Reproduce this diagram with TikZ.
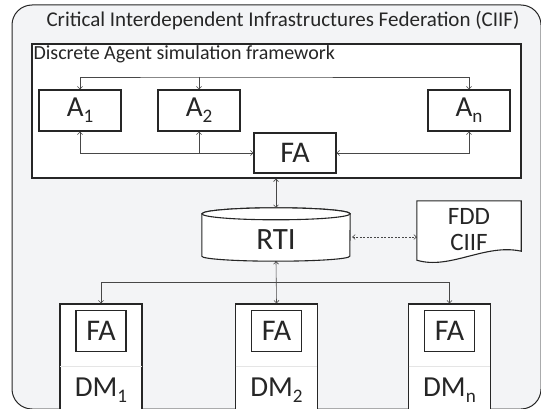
\documentclass[tikz,border=0pt]{standalone}
\usepackage{fontspec}
\setmainfont{Carlito}
\usetikzlibrary{arrows.meta,
	calc,
	positioning}
\definecolor{panelgray}{HTML}{F3F4F6}
\definecolor{inkgray}{HTML}{262626}
\newcommand{\lowtag}[1]{\raisebox{-0.45ex}{\scalebox{0.66}{#1}}}

\begin{document}
\begin{tikzpicture}[x=1pt,y=-1pt,
	every node/.style={text=inkgray},
	box/.style={draw=inkgray,line width=1.1pt,fill=white,inner sep=0pt},
	link/.style={draw=inkgray!85,line width=0.6pt},
	tip/.style={-{Straight Barb[length=2.6pt,width=5pt]}},
	tips/.style={{Straight Barb[length=2.6pt,width=5pt]}-{Straight Barb[length=2.6pt,width=5pt]}},
	agent/.style={box,minimum width=82pt,minimum height=41pt,font=\fontsize{29}{31}\selectfont},
	dmbox/.style={box,minimum width=82pt,minimum height=108pt},
	fainner/.style={box,minimum width=50pt,minimum height=41pt,font=\fontsize{30}{32}\selectfont}]
	\useasboundingbox (0,0) rectangle (541,409);
	\clip (0,0) rectangle (541,409);
	% federation panel
	\draw[draw=inkgray,line width=1pt,fill=panelgray,rounded corners=20pt] (12,5) rectangle (541,409);
	\node (title) at (283,21) {\fontsize{21}{24}\selectfont Critical Interdependent Infrastructures Federation (CIIF)};
	% agent framework
	\node[box,line width=1.3pt,minimum width=489pt,minimum height=134pt] (frame) at (276.5,111) {};
	\node[anchor=north west,inner sep=2pt,font=\fontsize{20}{23}\selectfont] (framelabel) at (frame.north west) {Discrete Agent simulation framework};
	\node[agent] (a1) at (80,110.5) {A\lowtag{1}};
	\node[agent] (a2) at (199,110.5) {A\lowtag{2}};
	\node[agent] (an) at (469,110.5) {A\lowtag{n}};
	\node[agent,minimum height=40pt,font=\fontsize{30}{32}\selectfont] (fa) at (295,153) {FA};
	\coordinate (topbus) at (199,77);
	\draw[link,tips] (a1.north) |- (topbus) -| (an.north);
	\draw[link,tip] (topbus) -- (a2.north);
	\draw[link,tips] (a1.south) |- (fa.west);
	\draw[link,tip] (a2.south |- fa.west) -- (a2.south);
	\draw[link,tips] (an.south) |- (fa.east);
	% RTI cylinder
	\node[inner sep=0pt,minimum width=148pt,minimum height=53pt] (rti) at (276,234.5) {};
	\draw[box] ($(rti.north west)+(0,6)$) -- ($(rti.south west)+(0,-5)$)
		arc[start angle=180,end angle=360,x radius=74pt,y radius=5pt]
		-- ($(rti.north east)+(0,6)$)
		arc[start angle=0,end angle=180,x radius=74pt,y radius=6pt] -- cycle;
	\draw[box] ($(rti.north)+(0,6)$) ellipse[x radius=74pt,y radius=6pt];
	\node[font=\fontsize{31}{33}\selectfont] (rtilabel) at ($(rti.center)+(0,5)$) {RTI};
	% FDD document
	\node[inner sep=0pt,minimum width=104pt,minimum height=61pt] (doc) at (469,231.5) {};
	\draw[box] (doc.north west) -- (doc.north east) -- ($(doc.south east)+(0,-11)$)
		.. controls ($(doc.south east)+(-36,-19)$) and ($(doc.south west)+(33,8)$) .. ($(doc.south west)+(0,-2)$) -- cycle;
	\node[align=center,font=\fontsize{25}{26}\selectfont] (doclabel) at ($(doc.center)+(0,-2)$) {FDD\\CIIF};
	\draw[link,tip] (frame.south -| rti.north) -- (rti.north);
	\draw[link,tip] (rti.north) -- (frame.south -| rti.north);
	\draw[link,tips,dash pattern=on 2pt off 1.5pt] ($(rti.east)+(2,2.5)$) -- ($(rti.east -| doc.west)+(0,2.5)$);
	% data models
	\foreach \name/\idx/\xpos in {dm1/1/101,dm2/2/276.5,dmn/n/449.5} {
		\node[dmbox] (\name) at (\xpos,358) {};
		\node[fainner] (\name fa) at ($(\name.north)+(0,27.5)$) {FA};
		\draw[draw=inkgray!12,line width=0.6pt] ($(\name.north west)+(0.6,63)$) -- ($(\name.north east)+(-0.6,63)$);
		\node[font=\fontsize{29}{31}\selectfont] (\name label) at ($(\name.north)+(0,87)$) {DM\lowtag{\idx}};
	}
	\coordinate (dmbus) at (276.5,282);
	\draw[link,tip] (dmbus) -| (dm1.north);
	\draw[link,tip] (dmbus) -| (dmn.north);
	\draw[link,tips] (rti.south) -- (dm2.north);
\end{tikzpicture}
\end{document}
